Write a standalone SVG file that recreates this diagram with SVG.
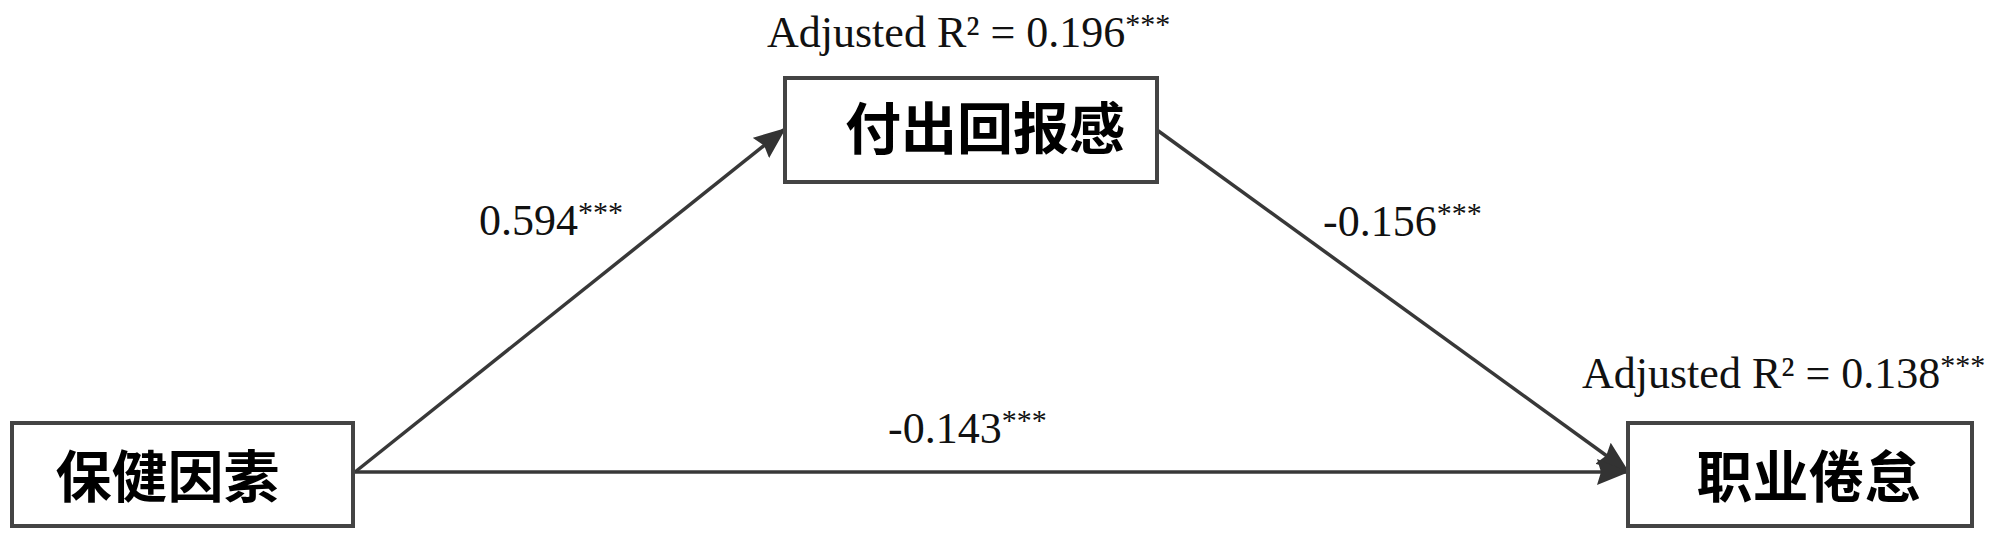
<svg xmlns="http://www.w3.org/2000/svg" width="2000" height="536" viewBox="0 0 2000 536">
<style>
.box{fill:#fff;stroke:#444;stroke-width:4}
.cjk{font-family:"Noto Sans CJK SC","Noto Sans",sans-serif;font-weight:bold;font-size:56px;fill:#000;text-anchor:middle}
.lbl{font-family:"Liberation Serif","Times New Roman",serif;font-size:44px;fill:#111}
.sup{font-size:30px}
.conn{stroke:#383838;stroke-width:3.5;fill:none}
</style>
<defs>
<marker id="ah" markerUnits="userSpaceOnUse" markerWidth="34" markerHeight="26" refX="32" refY="13" orient="auto">
<path d="M0,0 L32,13 L0,26 L4,13 Z" fill="#333"/>
</marker>
</defs>
<rect width="2000" height="536" fill="#fff"/>
<g id="connectors">
<line class="conn" x1="355" y1="472" x2="786" y2="128" marker-end="url(#ah)"/>
<line class="conn" x1="1157" y1="130" x2="1629" y2="472" marker-end="url(#ah)"/>
<line class="conn" x1="355" y1="472" x2="1629" y2="472" marker-end="url(#ah)"/>
</g>
<g id="node-hygiene">
<rect class="box" x="12" y="423" width="341" height="103"/>
<text class="cjk" x="167.5" y="497">保健因素</text>
</g>
<g id="node-effort">
<rect class="box" x="785" y="78" width="372" height="104"/>
<text class="cjk" x="985" y="149">付出回报感</text>
</g>
<g id="node-burnout">
<rect class="box" x="1628" y="423" width="344" height="103"/>
<text class="cjk" x="1808.5" y="497">职业倦怠</text>
</g>
<g id="labels">
<text class="lbl" x="767" y="47">Adjusted R² = 0.196<tspan class="sup" dy="-13">***</tspan></text>
<text class="lbl" x="1582" y="388">Adjusted R² = 0.138<tspan class="sup" dy="-13">***</tspan></text>
<text class="lbl" x="479" y="235">0.594<tspan class="sup" dy="-13">***</tspan></text>
<text class="lbl" x="1323" y="236">-0.156<tspan class="sup" dy="-13">***</tspan></text>
<text class="lbl" x="888" y="443">-0.143<tspan class="sup" dy="-13">***</tspan></text>
</g>
</svg>
